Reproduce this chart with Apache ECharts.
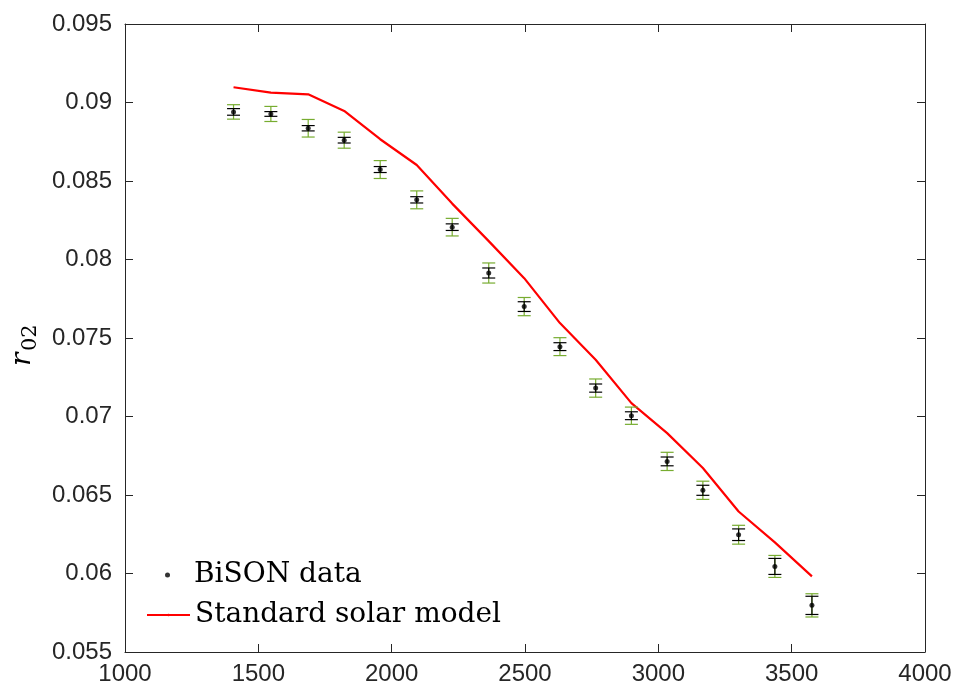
<!DOCTYPE html>
<html>
<head>
<meta charset="utf-8">
<script src="https://cdn.jsdelivr.net/npm/echarts@6/dist/echarts.min.js"></script>
<style>
  html, body { margin: 0; padding: 0; background: #fff; }
  #chart { width: 960px; height: 687px; }
</style>
</head>
<body>
<div id="chart"></div>
<script>
// frequency (x) for every mode pair
const freq = [1407, 1547, 1687, 1822, 1957, 2094, 2227, 2364, 2497, 2631, 2765, 2899, 3033, 3167, 3301, 3437, 3576];
// BiSON measured r02
const r02 = [0.08940, 0.08927, 0.08836, 0.08760, 0.08573, 0.08380, 0.08206, 0.07914, 0.07700, 0.07445, 0.07181, 0.07005, 0.06714, 0.06530, 0.06247, 0.06045, 0.05797];
// green (outer) and black (inner) error bars, half widths
const errOuter = [0.00046, 0.00048, 0.00056, 0.00051, 0.00057, 0.00057, 0.00056, 0.00064, 0.00058, 0.00057, 0.00058, 0.00055, 0.00058, 0.00058, 0.00060, 0.00070, 0.00074];
const errInner = [0.00021, 0.00015, 0.00017, 0.00018, 0.00019, 0.00020, 0.00021, 0.00032, 0.00031, 0.00025, 0.00026, 0.00025, 0.00028, 0.00032, 0.00037, 0.00051, 0.00058];
// standard solar model
const model = [0.09097, 0.09063, 0.09052, 0.08946, 0.08766, 0.08602, 0.08356, 0.08117, 0.07881, 0.07595, 0.07361, 0.07085, 0.06894, 0.06672, 0.06395, 0.06198, 0.05982];

const axisColor = '#262626';
const tickFont = { fontFamily: 'Liberation Sans', fontSize: 24, color: '#262626' };
const legendFont = { fontFamily: 'DejaVu Serif', fontSize: 28, color: '#000', lineHeight: 30 };

let chart = echarts.init(document.getElementById('chart'));

function errBar(color) {
  return function (params, api) {
    let x = api.value(0), y = api.value(1), e = api.value(2);
    let hi = api.coord([x, y + e]);
    let lo = api.coord([x, y - e]);
    let w = 6.5;
    let st = { stroke: color, lineWidth: 1.2 };
    return {
      type: 'group',
      children: [
        { type: 'line', shape: { x1: hi[0], y1: hi[1], x2: lo[0], y2: lo[1] }, style: st },
        { type: 'line', shape: { x1: hi[0] - w, y1: hi[1], x2: hi[0] + w, y2: hi[1] }, style: st },
        { type: 'line', shape: { x1: lo[0] - w, y1: lo[1], x2: lo[0] + w, y2: lo[1] }, style: st }
      ]
    };
  };
}

chart.setOption({
  animation: false,
  grid: { left: 125, right: 35, top: 24, bottom: 35 },
  xAxis: [
    {
      type: 'value', min: 1000, max: 4000, interval: 500,
      axisLine: { lineStyle: { color: axisColor, width: 1 } },
      axisTick: { inside: true, length: 8, lineStyle: { color: axisColor } },
      axisLabel: Object.assign({ margin: 10, formatter: v => String(v) }, tickFont),
      splitLine: { show: false }
    },
    {
      type: 'value', position: 'top', min: 1000, max: 4000, interval: 500,
      axisLine: { lineStyle: { color: axisColor, width: 1 } },
      axisTick: { inside: true, length: 8, lineStyle: { color: axisColor } },
      axisLabel: { show: false },
      splitLine: { show: false }
    }
  ],
  yAxis: [
    {
      type: 'value', min: 0.055, max: 0.095, interval: 0.005,
      axisLine: { show: true, lineStyle: { color: axisColor, width: 1 } },
      axisTick: { show: true, inside: true, length: 8, lineStyle: { color: axisColor } },
      axisLabel: Object.assign({
        margin: 13,
        formatter: v => String(Math.round(v * 1000) / 1000)
      }, tickFont),
      splitLine: { show: false }
    },
    {
      type: 'value', position: 'right', min: 0.055, max: 0.095, interval: 0.005,
      axisLine: { show: true, lineStyle: { color: axisColor, width: 1 } },
      axisTick: { show: true, inside: true, length: 8, lineStyle: { color: axisColor } },
      axisLabel: { show: false },
      splitLine: { show: false }
    }
  ],
  legend: [
    {
      data: [{ name: 'BiSON data', icon: 'circle' }],
      left: 165, top: 560, padding: 0,
      itemWidth: 43, itemHeight: 5,
      textStyle: legendFont
    },
    {
      data: ['Standard solar model'],
      left: 146, top: 600, padding: 0,
      itemWidth: 43, itemHeight: 3,
      textStyle: legendFont
    }
  ],
  graphic: [
    {
      type: 'group', x: 23, y: 351, rotation: Math.PI / 2,
      children: [
        { type: 'text', x: -15, y: 0, style: { text: 'r', font: 'italic 28px "DejaVu Serif"', fill: '#000', textVerticalAlign: 'middle', textAlign: 'left' } },
        { type: 'text', x: 0, y: 8, style: { text: '02', font: '21px "DejaVu Serif"', fill: '#000', textVerticalAlign: 'middle', textAlign: 'left' } }
      ]
    }
  ],
  series: [
    {
      name: 'Standard solar model',
      type: 'line',
      data: freq.map((f, i) => [f, model[i]]),
      showSymbol: false, symbol: 'none',
      lineStyle: { color: '#ff0000', width: 2.2 },
      itemStyle: { color: '#ff0000' },
      z: 1
    },
    {
      type: 'custom',
      renderItem: errBar('#77ac30'),
      data: freq.map((f, i) => [f, r02[i], errOuter[i]]),
      z: 2
    },
    {
      type: 'custom',
      renderItem: errBar('#000000'),
      data: freq.map((f, i) => [f, r02[i], errInner[i]]),
      z: 3
    },
    {
      name: 'BiSON data',
      type: 'scatter',
      data: freq.map((f, i) => [f, r02[i]]),
      symbol: 'circle', symbolSize: 5,
      itemStyle: { color: '#000' },
      z: 4
    }
  ]
});
</script>
</body>
</html>
